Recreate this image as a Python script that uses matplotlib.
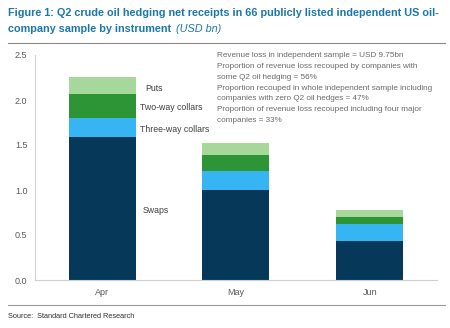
import numpy as np
import matplotlib.pyplot as plt
from matplotlib.lines import Line2D

plt.rcParams['font.family'] = ['Liberation Sans', 'DejaVu Sans']

months = ["Apr", "May", "Jun"]
swaps = [1.585, 1.0, 0.43]
three_way = [0.215, 0.215, 0.19]
two_way = [0.27, 0.175, 0.08]
puts = [0.19, 0.13, 0.08]

series = [("Swaps", swaps, "#06385A"),
          ("Three-way collars", three_way, "#36B5F2"),
          ("Two-way collars", two_way, "#2E9537"),
          ("Puts", puts, "#A6D89C")]

note = ("Revenue loss in independent sample = USD 9.75bn\n"
        "Proportion of revenue loss recouped by companies with\n"
        "some Q2 oil hedging = 56%\n"
        "Proportion recouped in whole independent sample including\n"
        "companies with zero Q2 oil hedges = 47%\n"
        "Proportion of revenue loss recouped including four major\n"
        "companies = 33%")

fig = plt.figure(figsize=(4.5, 3.28), dpi=100)
ax = fig.add_axes([35/450, 1 - 280/328, 402/450, 225/328])

x = np.arange(len(months))
bottom = np.zeros(len(months))
for name, vals, col in series:
    ax.bar(x, vals, width=0.5, bottom=bottom, color=col, linewidth=0)
    bottom += np.array(vals)

# labels next to the April bar
ax.text(0.3, 0.77, "Swaps", fontsize=6.3, color="#404040", va="center")
ax.text(0.28, 1.67, "Three-way collars", fontsize=6.3, color="#404040", va="center")
ax.text(0.28, 1.92, "Two-way collars", fontsize=6.3, color="#404040", va="center")
ax.text(0.32, 2.13, "Puts", fontsize=6.3, color="#404040", va="center")

ax.text(0.86, 2.53, note, fontsize=5.9, color="#6a6a6a", va="top", ha="left",
        linespacing=1.75)

ax.set_xlim(-0.5, 2.5)
ax.set_ylim(0, 2.5)
ax.set_yticks(np.arange(0, 2.51, 0.5))
ax.set_yticklabels([f"{v:.1f}" for v in np.arange(0, 2.51, 0.5)])
ax.set_xticks(x)
ax.set_xticklabels(months)
ax.tick_params(length=0, labelsize=6.5, colors="#595959", pad=6)
ax.tick_params(axis="y", pad=5.5)
for s in ["top", "right"]:
    ax.spines[s].set_visible(False)
for s in ["left", "bottom"]:
    ax.spines[s].set_color("#d0d0d0")
    ax.spines[s].set_linewidth(0.8)

fig.text(8/450, 1 - 13/328, "Figure 1: Q2 crude oil hedging net receipts in 66 publicly listed independent US oil-",
         fontsize=7.85, fontweight="bold", color="#1C77A8", va="center")
fig.text(8/450, 1 - 29/328, "company sample by instrument", fontsize=7.85, fontweight="bold",
         color="#1C77A8", va="center")
fig.text(176/450, 1 - 29/328, "(USD bn)", fontsize=7.85, fontstyle="italic",
         color="#1C77A8", va="center")

fig.add_artist(Line2D([8/450, 445/450], [1 - 43/328] * 2, color="#8a8a8a", lw=0.8))
fig.add_artist(Line2D([8/450, 445/450], [1 - 305/328] * 2, color="#9a9a9a", lw=0.8))
fig.text(8/450, 1 - 316/328, "Source:  Standard Chartered Research", fontsize=5.3,
         color="#303030", va="center")

fig.savefig("out.png", dpi=100)
